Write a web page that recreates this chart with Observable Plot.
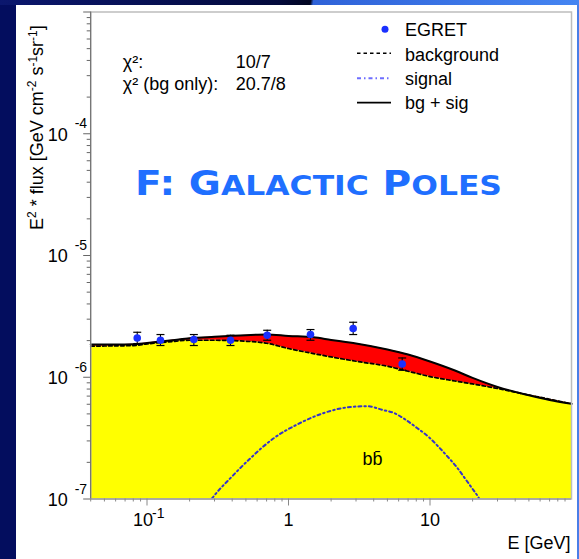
<!DOCTYPE html>
<html>
<head>
<meta charset="utf-8">
<script src="https://cdn.jsdelivr.net/npm/d3@7"></script>
<script src="https://cdn.jsdelivr.net/npm/@observablehq/plot@0.6"></script>
<style>
  html, body { margin: 0; padding: 0; }
  body { width: 579px; height: 559px; position: relative; overflow: hidden; background: #030d5e; }
  #band { position: absolute; left: 0; top: 0; width: 579px; height: 5px;
    background: linear-gradient(100deg, #0b176e 0%, #030a3c 48%, #010520 53.6%, #2f62d8 54.1%, #4585f2 100%); }
  #panel { position: absolute; left: 16px; top: 5px; width: 561px; height: 554px; background: #fff; }
  #edge { position: absolute; left: 577px; top: 5px; width: 2px; height: 554px; background: #4a7ee8; }
  #chart { position: absolute; left: 0; top: 0; }
</style>
</head>
<body>
<div id="band"></div>
<div id="panel"></div>
<div id="edge"></div>
<div id="chart"></div>
<script>
// Fit curves on a common energy grid (GeV) : E^2 * flux in GeV cm^-2 s^-1 sr^-1
const energyGrid     = [0.04, 0.06, 0.08, 0.1, 0.15, 0.2, 0.3, 0.5, 0.7, 1, 1.5, 2, 3, 5, 7, 10, 15, 20, 30, 50, 70, 100];
const backgroundFlux = [1.80e-6, 1.81e-6, 1.82e-6, 1.877e-6, 1.965e-6, 2.013e-6, 2.013e-6, 1.975e-6, 1.902e-6, 1.721e-6, 1.565e-6,
                        1.468e-6, 1.353e-6, 1.231e-6, 1.120e-6, 1.013e-6, 0.932e-6, 0.881e-6, 0.808e-6, 0.715e-6, 0.660e-6, 0.606e-6];
const totalFlux      = [1.856e-6, 1.856e-6, 1.866e-6, 1.913e-6, 2.010e-6, 2.090e-6, 2.150e-6, 2.215e-6, 2.243e-6, 2.184e-6, 2.131e-6,
                        2.025e-6, 1.891e-6, 1.689e-6, 1.536e-6, 1.346e-6, 1.135e-6, 0.987e-6, 0.832e-6, 0.711e-6, 0.651e-6, 0.606e-6];

// Dark matter annihilation signal (b b-bar)
const signalE    = [0.26, 0.29, 0.39, 0.54, 0.79, 1.15, 1.78, 2.74, 3.6, 4.7, 5.55, 6.7, 8.1, 9.8, 11.5, 13.6, 15.6, 17.8, 20.4, 21.8, 23.5];
const signalFlux = [0.85e-7, 1.02e-7, 1.49e-7, 2.17e-7, 3.17e-7, 4.09e-7, 5.09e-7, 5.70e-7, 5.78e-7, 5.36e-7, 5.09e-7,
                    4.49e-7, 3.83e-7, 3.23e-7, 2.68e-7, 2.17e-7, 1.80e-7, 1.46e-7, 1.17e-7, 1.05e-7, 0.88e-7];

// EGRET measurements with errors
const egretE    = [0.0853, 0.1245, 0.2143, 0.389, 0.707, 1.43, 2.865, 6.36];
const egretFlux = [2.10e-6, 2.013e-6, 2.040e-6, 2.013e-6, 2.213e-6, 2.243e-6, 2.512e-6, 1.286e-6];
const egretLow  = [1.891e-6, 1.822e-6, 1.822e-6, 1.822e-6, 2.013e-6, 2.013e-6, 2.243e-6, 1.142e-6];
const egretHigh = [2.342e-6, 2.243e-6, 2.243e-6, 2.213e-6, 2.432e-6, 2.465e-6, 2.829e-6, 1.440e-6];

// Axis ticks and labels
const xDomain = [0.04, 100];
const yDomain = [1e-7, 1e-3];
const yMajorTicks = [1e-7, 1e-6, 1e-5, 1e-4, 1e-3];
const yLabelTicks = [1e-7, 1e-6, 1e-5, 1e-4];
const yLabelExps  = ["-7", "-6", "-5", "-4"];
const xMajorTicks = [0.1, 1, 10];
const xLabelBases = ["10", "1", "10"];
const xLabelExps  = ["-1", "", ""];

const legendLabels = ["EGRET", "background", "signal", "bg + sig"];
const chiNames  = ["χ²:", "χ² (bg only):"];
const chiValues = ["10/7", "20.7/8"];

const FONT = '"Liberation Sans", Arial, Helvetica, sans-serif';
const BLUE_DOT = "#1a30ff";
const SIGNAL = "#3535c8";

const fitRows = energyGrid.map((E, i) => ({E, bg: backgroundFlux[i], total: totalFlux[i]}));
const sigRows = signalE.map((E, i) => ({E, flux: signalFlux[i]}));
const egret = egretE.map((E, i) => ({E, flux: egretFlux[i], lo: egretLow[i], hi: egretHigh[i]}));

const minorY = [];
for (let k = -7; k <= -4; k++) for (let m = 2; m <= 9; m++) minorY.push(m * Math.pow(10, k));
const minorX = [];
for (let k = -2; k <= 1; k++) for (let m = 2; m <= 9; m++) {
  const v = m * Math.pow(10, k);
  if (v >= xDomain[0] && v <= xDomain[1]) minorX.push(v);
}
const xLabelRows = xMajorTicks.map((v, i) => ({v, base: xLabelBases[i], exp: xLabelExps[i]}));

// short horizontal bar used as error-bar cap
const capSymbol = {draw(ctx) { ctx.moveTo(-4, 0); ctx.lineTo(4, 0); }};

const W = 579, H = 559;
const plot = Plot.plot({
  width: W, height: H,
  marginLeft: 90.2, marginRight: 8, marginTop: 11.5, marginBottom: 60.5,
  x: {type: "log", domain: xDomain},
  y: {type: "log", domain: yDomain},
  style: {fontFamily: FONT, fontSize: "18px", background: "transparent", color: "#000", overflow: "visible"},
  marks: [
    Plot.areaY(fitRows, {x: "E", y1: () => yDomain[0], y2: "bg", fill: "#ffff00", curve: "monotone-x"}),
    Plot.areaY(fitRows, {x: "E", y1: "bg", y2: "total", fill: "#ff0000", curve: "monotone-x"}),
    Plot.line(sigRows, {x: "E", y: "flux", stroke: SIGNAL, strokeWidth: 2, strokeDasharray: "3,3,1.5,3", curve: "monotone-x", clip: true}),
    Plot.line(fitRows, {x: "E", y: "bg", stroke: "#000", strokeWidth: 1.7, strokeDasharray: "3.5,2.5", curve: "monotone-x"}),
    Plot.line(fitRows, {x: "E", y: "total", stroke: "#000", strokeWidth: 2, curve: "monotone-x"}),
    Plot.ruleX(egret, {x: "E", y1: "lo", y2: "hi", stroke: "#000", strokeWidth: 1.1}),
    Plot.dot(egret, {x: "E", y: "lo", symbol: capSymbol, r: 4, stroke: "#000", fill: "none", strokeWidth: 1.2}),
    Plot.dot(egret, {x: "E", y: "hi", symbol: capSymbol, r: 4, stroke: "#000", fill: "none", strokeWidth: 1.2}),
    Plot.dot(egret, {x: "E", y: "flux", r: 3.8, fill: BLUE_DOT, stroke: "none"}),
    Plot.frame({stroke: "#bdbdbd", strokeWidth: 1.5}),
    Plot.ruleX([xDomain[0]], {stroke: "#666", strokeWidth: 1}),
    Plot.ruleY([yDomain[0]], {stroke: "#888", strokeWidth: 1}),
    // ticks
    Plot.axisY(minorY, {tickSize: 3.5, tickFormat: () => "", label: null, stroke: "#666"}),
    Plot.axisY(yMajorTicks, {tickSize: 7, tickFormat: () => "", label: null, stroke: "#666"}),
    Plot.axisX(minorX, {tickSize: 3, tickFormat: () => "", label: null, stroke: "#888"}),
    Plot.axisX(xMajorTicks, {tickSize: 7, tickFormat: () => "", label: null, stroke: "#888"}),
    // tick labels 10^n
    Plot.text(yLabelTicks, {y: d => d, text: () => "10", frameAnchor: "left", dx: -23, dy: 1, textAnchor: "end", fontSize: 18}),
    Plot.text(yLabelTicks, {y: d => d, text: yLabelExps, frameAnchor: "left", dx: -16, dy: -9.8, textAnchor: "start", fontSize: 14}),
    Plot.text(xLabelRows.filter(d => d.exp), {x: "v", text: "base", frameAnchor: "bottom", dx: 6, dy: 27.4, textAnchor: "end", fontSize: 18}),
    Plot.text(xLabelRows.filter(d => d.exp), {x: "v", text: "exp", frameAnchor: "bottom", dx: 5, dy: 18.7, textAnchor: "start", fontSize: 14}),
    Plot.text(xLabelRows.filter(d => !d.exp), {x: "v", text: "base", frameAnchor: "bottom", dy: 27.4, fontSize: 18}),
    Plot.text(["E [GeV]"], {text: d => d, frameAnchor: "bottom-right", dx: -1, dy: 49.7, textAnchor: "end", fontSize: 18}),
    // fit quality
    Plot.text(chiNames.slice(0, 1), {text: d => d, frameAnchor: "top-left", dx: 32, dy: 43.7, textAnchor: "start", fontSize: 18}),
    Plot.text(chiNames.slice(1), {text: d => d, frameAnchor: "top-left", dx: 32, dy: 65.7, textAnchor: "start", fontSize: 18}),
    Plot.text(chiValues.slice(0, 1), {text: d => d, frameAnchor: "top-left", dx: 145, dy: 43.7, textAnchor: "start", fontSize: 18}),
    Plot.text(chiValues.slice(1), {text: d => d, frameAnchor: "top-left", dx: 145, dy: 65.7, textAnchor: "start", fontSize: 18}),
    // channel label
    Plot.text(["bb\u0304"], {text: d => d, frameAnchor: "top-left", dx: 271.8, dy: 440.7, fontSize: 18})
  ]
});

document.getElementById("chart").appendChild(plot);

const svg = d3.select(plot);

// y-axis title with superscripts
const yTitle = svg.append("text")
  .attr("transform", "translate(43,230) rotate(-90)")
  .attr("text-anchor", "start")
  .attr("font-family", FONT).attr("font-size", 18).attr("fill", "#000");
const sup = (t) => { yTitle.append("tspan").attr("font-size", 12).attr("dy", "-0.55em").text(t); };
const base = (t, back) => { yTitle.append("tspan").attr("dy", back ? "0.37em" : null).text(t); };
base("E"); sup("2"); base(" * flux [GeV cm", true); sup("-2"); base(" s", true); sup("-1"); base("sr", true); sup("-1"); base("]", true);

// panel title in small capitals
const title = svg.append("text")
  .attr("x", 135).attr("y", 195)
  .attr("text-anchor", "start")
  .attr("font-family", '"DejaVu Sans", sans-serif').attr("font-weight", "bold")
  .attr("fill", "#1f6fff")
  .attr("textLength", 367).attr("lengthAdjust", "spacingAndGlyphs");
[["F: G", 33], ["ALACTIC", 26.5], [" P", 33], ["OLES", 26.5]].forEach(([t, s]) => {
  title.append("tspan").attr("font-size", s).text(t);
});

// legend
const lg = svg.append("g").attr("font-family", FONT).attr("font-size", 18).attr("text-anchor", "start");
const symX0 = 357, symX1 = 391, textX = 405;
const rowY = [29.3, 53.3, 78.3, 102.7];
const baseY = [36, 60.5, 84.5, 108.5];
lg.append("circle").attr("cx", 385).attr("cy", rowY[0]).attr("r", 3.5).attr("fill", BLUE_DOT);
lg.append("line").attr("x1", symX0).attr("x2", symX1).attr("y1", rowY[1]).attr("y2", rowY[1])
  .attr("stroke", "#000").attr("stroke-width", 1.5).attr("stroke-dasharray", "3.5,3");
lg.append("line").attr("x1", symX0).attr("x2", symX1).attr("y1", rowY[2]).attr("y2", rowY[2])
  .attr("stroke", "#6d6dff").attr("stroke-width", 2).attr("stroke-dasharray", "4,3,1.5,3");
lg.append("line").attr("x1", symX0).attr("x2", symX1).attr("y1", rowY[3]).attr("y2", rowY[3])
  .attr("stroke", "#000").attr("stroke-width", 1.8);
legendLabels.forEach((t, i) => {
  lg.append("text").attr("x", textX).attr("y", baseY[i]).attr("fill", "#000").text(t);
});
</script>
</body>
</html>
